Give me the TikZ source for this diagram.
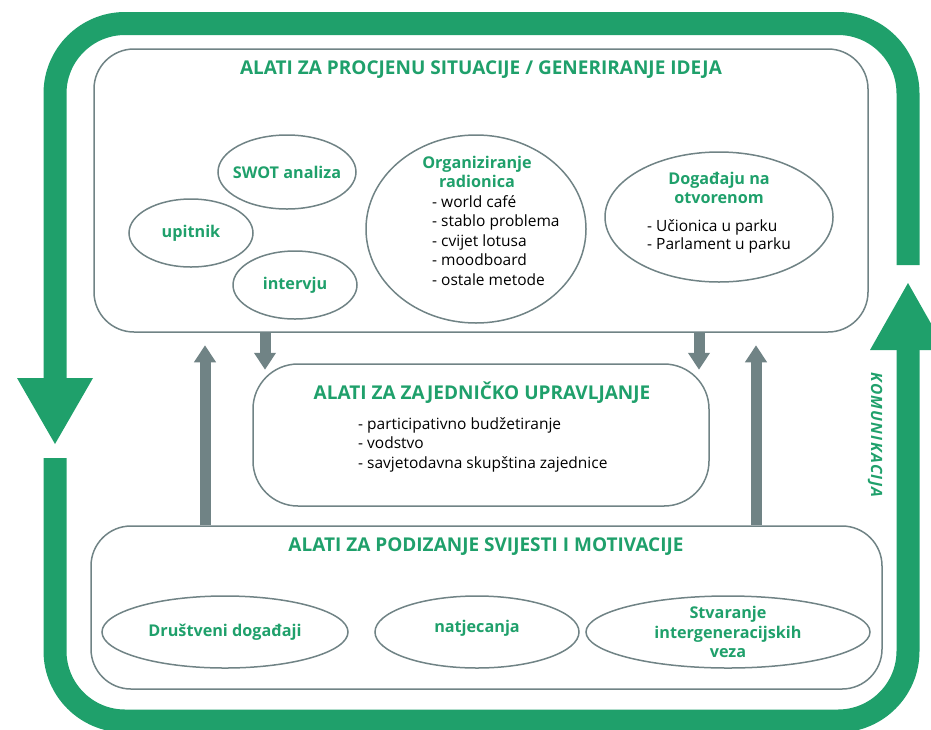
\documentclass[tikz,border=0pt]{standalone}
\usepackage{fontspec}
\setmainfont{Open Sans}
\usetikzlibrary{shapes.geometric,arrows.meta,positioning}
\definecolor{komgreen}{RGB}{31,160,107}
\definecolor{slate}{RGB}{112,131,133}

\begin{document}
\begin{tikzpicture}[x=1pt,y=-1pt,
    box/.style={draw=slate,line width=1.5pt,rounded corners=40pt,inner sep=0pt},
    tool/.style={ellipse,draw=slate,line width=1.5pt,inner sep=0pt},
    hd/.style={font=\fontsize{19}{22}\selectfont\bfseries,text=komgreen},
    lbl/.style={font=\fontsize{16.2}{19}\selectfont\bfseries,text=komgreen,align=center},
    lst/.style={font=\fontsize{15.5}{19.4}\selectfont,align=left,anchor=north west,inner sep=0pt},
    band/.style={draw=komgreen,line width=23pt,rounded corners=70pt},
    garr/.style={draw=slate,line width=11pt,-{Triangle[length=17pt,width=21pt]}}]
    \useasboundingbox (0,0) rectangle (931,729);
    % green loop
    \draw[band] (55,378) -- (55,23.5) -- (908,23.5) -- (908,265);
    \draw[band] (55,458) -- (55,721) -- (908,721) -- (908,350);
    \fill[komgreen] (17,378) -- (93,378) -- (55,444) -- cycle;
    \fill[komgreen] (870,350) -- (946,350) -- (908,283) -- cycle;
    \node[font=\fontsize{15.5}{17}\selectfont\bfseries\itshape,text=komgreen,rotate=-90] (kom) at (875,435)
        {\addfontfeatures{LetterSpace=9}KOMUNIKACIJA};
    % boxes
    \node[box,minimum width=774pt,minimum height=283pt] (assess) at (481,190.5) {};
    \node[hd] (assesst) at (481,70) {ALATI ZA PROCJENU SITUACIJE / GENERIRANJE IDEJA};
    \node[box,rounded corners=45pt,minimum width=456pt,minimum height=142pt] (mid) at (481,435) {};
    \node[hd] (midt) at (482,393) {ALATI ZA ZAJEDNIČKO UPRAVLJANJE};
    \node[box,minimum width=791pt,minimum height=163pt] (aware) at (486.5,607.5) {};
    \node[hd] (awaret) at (486,547) {ALATI ZA PODIZANJE SVIJESTI I MOTIVACIJE};
    % top tools
    \node[tool,minimum width=138pt,minimum height=74pt,label={[lbl]center:SWOT analiza}] (swot) at (287,172) {};
    \node[tool,minimum width=124pt,minimum height=68pt,label={[lbl]center:upitnik}] (upitnik) at (191,233) {};
    \node[tool,minimum width=124pt,minimum height=68pt,label={[lbl]center:intervju}] (intervju) at (295,285) {};
    \node[tool,minimum width=220pt,minimum height=188pt] (radionice) at (476,229) {};
    \node[lbl] (radionicet) at (477,171.5) {Organiziranje\\radionica};
    \node[lst] (radionicel) at (432,195.5) {- world café\\- stablo problema\\- cvijet lotusa\\- moodboard\\- ostale metode};
    \node[tool,minimum width=228pt,minimum height=130pt] (otvoreno) at (719,217) {};
    \node[lbl] (otvorenot) at (719,188) {Događaju na\\otvorenom};
    \node[lst,font=\fontsize{15.5}{18.2}\selectfont] (otvorenol) at (647,219.5) {- Učionica u parku\\- Parlament u parku};
    % middle list
    \node[lst] (midl) at (358,417.5) {- participativno budžetiranje\\- vodstvo\\- savjetodavna skupština zajednice};
    % bottom tools
    \node[tool,minimum width=246pt,minimum height=72pt,label={[lbl]center:Društveni događaji}] (drustveni) at (225,632) {};
    \node[tool,minimum width=204pt,minimum height=72pt] (natjecanja) at (477,632) {};
    \node[lbl] (natjecanjat) at (477,628) {natjecanja};
    \node[tool,minimum width=284pt,minimum height=72pt,
        label={[lbl,font=\fontsize{16.2}{19.5}\selectfont\bfseries]center:Stvaranje\\intergeneracijskih\\veza}] (veze) at (728,632) {};
    % gray arrows
    \draw[garr] ([xshift=-216pt]assess.south) -- ++(0,37);
    \draw[garr] ([xshift=218pt]assess.south) -- ++(0,37);
    \draw[garr] ([xshift=-281.5pt]aware.north) -- ++(0,-180);
    \draw[garr] ([xshift=269.5pt]aware.north) -- ++(0,-180);
\end{tikzpicture}
\end{document}
